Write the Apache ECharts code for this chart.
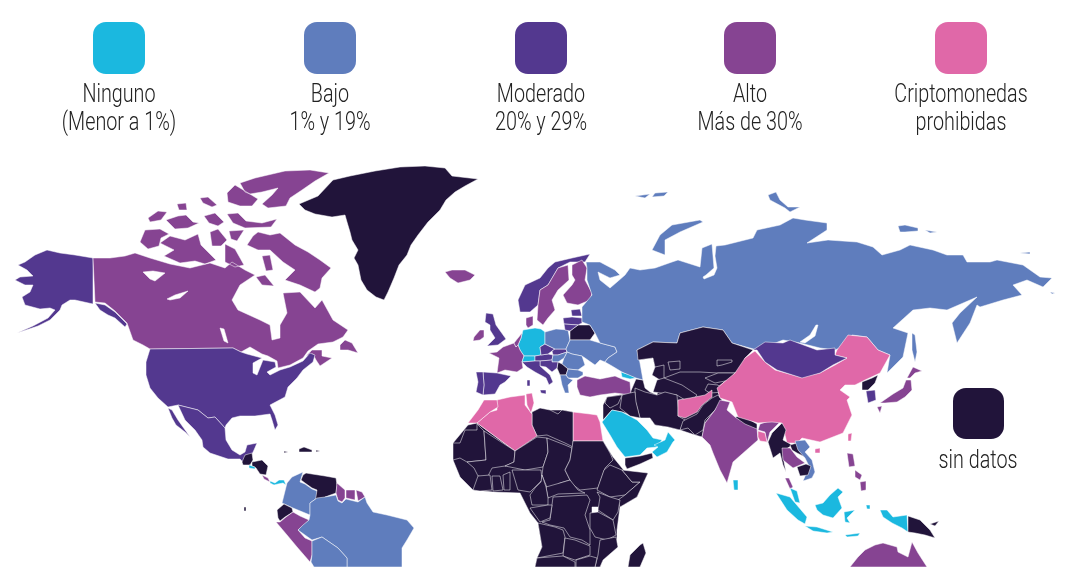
<!DOCTYPE html>
<html>
<head>
<meta charset="utf-8">
<title>Criptomonedas</title>
<style>html,body{margin:0;padding:0;background:#fff}#mapa{width:1080px;height:567px}</style>
<script src="https://cdn.jsdelivr.net/npm/echarts@6/dist/echarts.min.js"></script>
</head>
<body>
<div id="mapa"></div>
<script>
// niveles: 0 ninguno, 1 bajo, 2 moderado, 3 alto, 4 prohibidas, 5 sin datos
var nivelesColor = ['#1BB8DF', '#5F7DBD', '#53388F', '#864492', '#E068A8', '#21143A'];
var leyendaTextos = ['Ninguno\n(Menor a 1%)', 'Bajo\n1% y 19%', 'Moderado\n20% y 29%', 'Alto\nMás de 30%', 'Criptomonedas\nprohibidas'];
var sinDatosTexto = 'sin datos';

var ninguno = ['Alemania', 'Suiza', 'El Salvador', 'Panama', 'Arabia Saudita', 'Emiratos y Oman', 'Georgia', 'Sri Lanka', 'Indonesia'];
var bajo = ['Rusia', 'Polonia', 'Ucrania', 'Rumania', 'Hungria', 'Bulgaria', 'Grecia', 'Vietnam', 'Colombia', 'Brasil', 'Bolivia'];
var moderado = ['Alaska', 'Estados Unidos', 'Mexico', 'Noruega', 'Reino Unido', 'Austria', 'Chequia', 'Eslovaquia', 'Estonia', 'Letonia', 'Lituania', 'Croacia', 'Italia', 'España', 'Portugal', 'Mongolia', 'Corea del Sur'];
var alto = ['Canada', 'Islandia', 'Suecia', 'Finlandia', 'Dinamarca', 'Irlanda', 'Francia', 'Benelux', 'Turquia', 'India', 'Tailandia', 'Japon', 'Filipinas', 'Australia', 'Peru', 'Guyanas', 'Costa Rica'];
var prohibidas = ['China', 'Afganistan', 'Argelia', 'Tunez', 'Marruecos', 'Egipto', 'Bangladesh'];
var sinDatos = ['Groenlandia', 'Africa', 'Asia Central', 'Kazajistan', 'Turkmenistan', 'Kirguistan', 'Tayikistan', 'Iran', 'Pakistan', 'Irak', 'Siria', 'Yemen', 'Libia', 'Belarus', 'Serbia', 'Nepal', 'Myanmar', 'Laos', 'Camboya', 'Corea del Norte', 'Papua', 'Venezuela', 'Ecuador', 'Guatemala', 'Honduras', 'Caribe',
  'Mauritania', 'Mali', 'Niger', 'Chad', 'Sudan', 'Rep Centroafricana', 'Etiopia', 'Somalia', 'Kenia', 'Tanzania', 'Congo RD', 'Nigeria', 'Camerun', 'Gabon', 'Angola', 'Zambia', 'Mozambique', 'Namibia', 'Zimbabue', 'Madagascar', 'Costa de Marfil', 'Ghana', 'Benin'];

// contornos simplificados de cada pais, trazados a mano sobre el mapa de referencia
var contornos = {
  'Africa': ['468,425 453,443 453,460 460,477 473,490 493,492 520,493 530,513 538,523 542,547 537,558 535,567 600,567 603,560 617,547 617,530 620,507 637,497 648,473 630,478 622,468 613,457 603,441 573,441 573,412 562,410 550,410 532,412 532,425 515,451 477,423'],
  'Asia Central': ['637,350 653,342 677,343 680,333 703,327 723,330 732,343 753,350 745,358 735,373 717,388 720,398 715,410 705,423 702,437 695,435 680,430 668,427 655,425 650,418 640,418 622,412 612,410 603,420 603,405 607,397 630,393 636,379 643,380 645,388 650,392 657,395 660,380 652,375 655,367 653,358 638,360'],
  'Groenlandia': ['299,204 318,196 333,180 350,176 375,171 400,167 425,166 445,168 452,176 478,179 465,186 455,192 446,200 440,210 428,222 418,235 411,245 407,255 399,265 394,278 388,292 384,300 376,297 367,290 361,280 358,265 354,258 358,250 352,240 350,232 347,222 345,215 332,217 315,214 305,210'],
  'Alaska': ['93,258 75,255 60,253 47,250 35,255 25,262 18,265 27,270 33,276 20,277 15,280 25,285 33,285 30,292 22,297 25,305 40,309 50,308 55,310 48,318 33,326 17,333 38,326 50,320 60,310 62,305 70,300 75,300 93,304', '95,303 105,305 115,312 127,324 125,327 115,318 108,315 100,310'],
  'Canada': ['93,258 110,258 125,256 135,253 150,258 170,264 190,268 210,263 225,268 232,262 245,270 255,275 240,285 232,300 238,310 260,320 270,325 272,340 280,338 280,325 287,313 283,293 300,292 315,308 322,300 333,320 348,330 343,337 333,342 318,344 308,351 303,358 290,365 278,368 277,361 268,356 262,354 250,347 241,352 233,348 150,349 143,345 133,340 127,323 115,311 105,303 95,302',
    '306,356 312,350 322,350 322,356 332,358 320,366 316,360 313,354', '345,340 352,343 358,353 348,350 340,350 340,345',
    '247,245 253,236 258,232 270,235 280,233 295,245 308,252 320,260 331,268 322,278 320,288 315,292 300,285 285,280 295,270 283,262 270,250 258,250',
    '240,183 255,178 285,171 310,170 329,173 315,181 302,190 290,198 286,206 268,208 262,204 272,195 278,188 262,192 250,194 245,192',
    '227,193 235,185 245,191 258,199 252,206 240,206 228,202',
    '140,242 145,230 160,229 169,234 161,238 159,246 148,249', '160,243 170,236 185,240 198,234 201,245 216,260 205,264 195,261 180,263 164,256 174,250',
    '148,218 158,211 167,212 161,220 150,222', '166,220 178,216 186,215 193,222 199,223 188,228 175,229', '177,204 186,203 187,210 179,210', '200,198 208,197 217,205 212,207 203,203', '204,216 215,213 224,222 218,226 209,223',
    '227,214 238,213 246,221 262,223 277,219 271,227 245,228 233,223', '210,232 218,229 227,240 221,246 212,246', '229,231 244,230 237,241 231,239', '225,244 235,249 244,265 235,267 225,262',
    '262,256 270,255 273,270 266,271', '256,277 265,275 274,286 262,285'],
  'Estados Unidos': ['150,349 233,348 241,352 247,354 262,358 253,363 253,373 257,375 263,360 275,362 276,367 267,372 270,375 280,370 290,367 303,361 310,353 315,355 313,362 303,370 297,378 288,387 285,397 270,405 275,415 278,425 275,430 272,420 270,414 255,416 240,416 232,418 226,425 225,428 215,417 208,418 198,410 178,405 168,407 158,398 150,388 146,375 146,362'],
  'Mexico': ['178,405 198,410 208,418 215,417 225,428 226,440 232,450 240,455 245,452 247,445 257,443 254,450 250,458 243,462 240,459 228,459 210,453 203,447 202,440 195,430 185,420', '168,408 172,410 178,420 190,437 185,432 176,425 172,418'],
  'Guatemala': ['242,462 245,455 252,453 253,460 250,465 243,465'],
  'Honduras': ['252,462 262,460 268,466 266,475 260,474 256,468 252,466'],
  'El Salvador': ['249,465 255,467 255,469 249,468'],
  'Costa Rica': ['262,475 268,478 270,482 264,479'],
  'Panama': ['270,481 275,483 279,480 284,480 286,485 283,483 278,484 274,485 270,483'],
  'Caribe': ['299,449 304,447 312,450 312,452 299,452', '284,451 288,452 284,453', '316,450 320,451 316,452', '244,507 246,507 246,511 244,511'],
  'Colombia': ['303,472 300,482 305,484 312,489 317,491 317,498 310,503 310,515 293,508 282,503 287,483 292,477'],
  'Venezuela': ['303,475 306,473 312,474 325,476 336,478 337,485 336,493 325,497 322,503 315,503 317,490 312,488 305,483 301,480'],
  'Guyanas': ['337,483 345,490 345,498 342,502 338,500 336,493', '346,490 355,490 355,500 346,498', '356,490 362,492 365,497 358,501'],
  'Ecuador': ['277,510 284,504 292,508 293,512 285,517 280,521 278,518'],
  'Peru': ['280,522 286,517 293,512 300,516 309,520 303,526 298,530 305,538 312,541 312,555 310,562 297,547 287,535 276,522'],
  'Brasil': ['309,520 310,515 310,503 317,498 325,497 336,495 338,501 342,503 346,499 358,502 365,497 367,503 373,512 387,515 407,520 414,528 407,540 402,548 402,567 347,567 347,558 338,548 322,537 312,540 298,530 303,525'],
  'Bolivia': ['312,541 322,537 338,548 347,558 347,567 314,567 311,562 312,555'],
  'Islandia': ['445,272 452,270 465,270 475,275 470,280 458,283 450,278'],
  'Noruega': ['518,300 525,285 540,278 548,268 555,262 572,258 590,254 585,262 570,262 558,268 548,285 540,290 538,305 530,312 520,312'],
  'Suecia': ['558,268 568,265 569,280 558,290 552,300 555,310 548,318 543,325 537,320 538,305 540,290 548,285'],
  'Finlandia': ['572,265 582,260 587,268 585,280 592,293 590,300 578,305 567,303 563,295 572,285 575,280 572,275'],
  'Dinamarca': ['526,318 533,316 533,325 528,328 526,325'],
  'Reino Unido': ['486,313 493,314 496,325 501,332 506,339 498,345 487,346 495,338 490,330 490,325 485,322'],
  'Irlanda': ['474,337 480,330 484,330 484,337 480,340 473,341'],
  'Alemania': ['523,330 535,328 541,329 545,332 545,344 540,347 541,355 535,356 524,356 520,350 518,345 521,338'],
  'Francia': ['489,353 497,352 503,347 514,343 516,347 518,345 520,350 524,356 522,362 523,368 517,372 505,370 497,373 499,358'],
  'Benelux': ['514,343 522,333 521,338 518,345 516,347'],
  'Suiza': ['524,356 535,356 535,361 522,362'],
  'Austria': ['535,356 541,355 548,354 553,355 552,360 540,361 535,361'],
  'Chequia': ['540,347 545,344 555,349 552,351 548,354 541,355'],
  'Eslovaquia': ['552,351 555,349 566,349 567,352 558,355 553,355'],
  'Polonia': ['545,332 556,329 568,330 570,340 566,349 555,349 545,344'],
  'Belarus': ['570,331 578,325 590,325 595,333 590,340 570,340'],
  'Estonia': ['571,310 580,309 582,316 572,316'],
  'Letonia': ['563,318 572,317 582,318 582,323 578,325 564,324'],
  'Lituania': ['564,324 578,325 570,331 565,330'],
  'Ucrania': ['570,340 590,340 600,343 615,347 617,352 608,358 605,362 600,360 595,365 585,358 582,356 572,354 567,352 566,349'],
  'Rumania': ['564,358 567,352 572,354 582,356 585,365 578,370 568,369 562,364'],
  'Hungria': ['553,355 558,355 567,352 564,358 558,362 552,362 552,360'],
  'Serbia': ['558,362 562,364 568,369 566,375 560,375 557,368'],
  'Bulgaria': ['568,369 578,370 583,372 583,375 578,378 568,378 566,375'],
  'Grecia': ['560,375 566,375 568,378 573,380 568,385 569,393 565,393 562,385'],
  'Croacia': ['540,361 552,360 552,362 558,362 557,368 552,372 546,367 540,366'],
  'Italia': ['522,362 535,361 540,361 540,366 550,375 553,382 549,385 546,378 535,372 527,367', '540,390 546,390 546,394 541,393', '527,380 530,380 530,386 527,386'],
  'España': ['483,372 497,373 511,376 505,382 500,385 495,394 483,395 484,385'],
  'Portugal': ['476,372 483,372 484,385 483,395 476,392 478,382'],
  'Turquia': ['577,380 585,376 600,379 615,376 622,379 630,382 631,395 615,393 600,395 590,397 580,395 577,387'],
  'Georgia': ['621,372 630,375 636,378 630,379 622,377'],
  'Rusia': ['586,262 600,262 615,270 620,275 610,278 598,272 600,280 610,288 617,282 625,275 630,268 640,270 655,268 672,262 678,260 700,267 702,248 712,244 713,256 714,268 706,275 703,277 704,279 714,275 717,268 715,256 716,246 725,245 737,242 753,238 757,230 780,225 793,218 805,220 827,223 827,230 807,243 828,240 857,242 873,247 882,255 900,250 910,245 933,250 947,255 963,255 967,262 990,262 997,260 1023,265 1040,277 1052,278 1043,287 1027,280 1013,285 1022,295 1003,300 980,307 977,305 970,323 957,343 952,323 960,313 977,297 947,310 930,308 913,310 893,328 908,333 903,357 887,373 890,355 878,350 867,337 852,335 847,345 835,350 820,348 800,343 783,340 757,350 732,343 723,330 703,327 680,333 677,343 653,342 637,350 640,363 643,380 636,378 622,372 612,366 605,362 608,358 617,352 615,347 600,343 595,333 590,325 582,322 582,318 582,310 582,307 592,295 587,280 587,268',
    '652,250 660,235 672,225 700,220 703,222 680,232 665,240 665,255', '768,195 776,192 780,200 788,207 800,207 790,212 785,208 770,200', '635,196 650,194 645,198', '655,193 668,192 664,196 652,197', '898,226 905,225 918,228 918,231 905,232 900,232', '925,230 937,232 930,233', '1020,253 1030,252 1030,254', '912,333 915,335 917,352 915,362 912,350', '1050,292 1055,293 1052,294'],
  'Kazajistan': ['637,350 653,342 677,343 680,333 703,327 723,330 732,343 753,350 745,358 742,368 735,373 718,373 700,372 680,372 664,378 664,365 655,367 653,358 638,360'],
  'Turkmenistan': ['657,380 664,378 682,385 697,395 693,400 685,400 677,395 653,392'],
  'Kirguistan': ['705,378 718,373 735,373 730,380 715,383'],
  'Tayikistan': ['708,384 718,385 724,392 710,393 705,390'],
  'Iran': ['635,388 645,392 657,395 665,392 677,395 678,408 678,416 685,420 680,430 668,427 655,425 650,418 640,418 635,400'],
  'Irak': ['622,395 630,393 635,392 636,402 640,418 630,416 620,408'],
  'Siria': ['605,403 607,397 622,395 618,404 610,408'],
  'Afganistan': ['678,400 690,398 705,395 712,390 712,397 702,405 697,412 685,418 678,416 678,408'],
  'Pakistan': ['685,420 697,414 703,405 712,398 718,395 722,400 715,410 705,420 703,430 695,435 688,428 680,430 683,421'],
  'Arabia Saudita': ['602,422 612,410 622,412 637,420 647,430 653,438 662,440 657,447 647,448 640,455 625,457 617,447 610,435'],
  'Emiratos y Oman': ['654,445 665,440 668,432 675,440 673,442 667,452 657,457 652,452 658,447'],
  'Yemen': ['625,458 640,456 652,453 653,458 640,464 627,469 625,465'],
  'Egipto': ['573,412 590,414 597,415 600,422 603,441 573,441'],
  'Libia': ['532,412 540,408 550,410 558,414 562,410 573,412 573,441 573,447 565,443 547,435 537,436 532,425'],
  'Argelia': ['497,400 510,397 525,395 525,405 532,414 532,425 537,436 515,451 477,423 490,412 497,410'],
  'Tunez': ['526,394 532,393 534,403 531,413 527,405'],
  'Marruecos': ['468,423 478,410 484,400 497,400 498,407 490,412 477,423'],
  'Mauritania': ['477,424 484,431 486,460 467,462 460,458 453,460 453,443 460,443 465,430 477,430'],
  'Mali': ['484,431 515,451 514,462 505,466 492,468 487,478 478,476 474,468 467,462 486,460'],
  'Niger': ['515,451 537,437 547,438 548,452 543,467 525,470 515,468 505,466 514,462'],
  'Chad': ['547,438 565,445 572,448 570,460 565,470 570,480 560,483 548,490 542,475 543,467 548,452'],
  'Sudan': ['573,441 603,441 610,453 613,460 605,468 598,488 580,490 572,484 570,480 565,470 570,460 572,448'],
  'Rep Centroafricana': ['546,487 560,483 570,480 578,490 585,493 558,494 548,498'],
  'Etiopia': ['610,465 622,470 632,482 640,482 625,495 610,497 597,490 604,470'],
  'Somalia': ['622,470 648,473 637,497 620,507 618,500 625,495 640,482 632,482'],
  'Kenia': ['597,492 610,497 620,500 618,512 613,520 598,510 600,497'],
  'Tanzania': ['590,513 598,512 613,520 616,535 607,540 595,537 590,528'],
  'Congo RD': ['553,497 587,495 590,500 585,515 590,530 590,545 582,540 570,537 564,528 550,525 542,522 550,520 552,505'],
  'Nigeria': ['512,470 530,470 541,470 542,480 535,487 530,492 518,490 515,480'],
  'Camerun': ['542,475 546,487 548,498 548,505 532,505 530,495 535,488 541,482'],
  'Gabon': ['530,508 548,505 552,505 550,518 540,522 535,515'],
  'Angola': ['538,523 555,527 563,530 565,537 563,553 537,558 542,547'],
  'Zambia': ['565,538 575,540 590,546 590,555 575,560 563,556'],
  'Mozambique': ['600,540 616,537 618,547 603,560 600,567 595,567 598,555'],
  'Namibia': ['537,558 563,556 575,562 575,567 535,567'],
  'Zimbabue': ['576,560 590,556 597,558 595,567 576,567'],
  'Madagascar': ['628,567 630,555 640,545 643,543 646,553 640,567'],
  'Costa de Marfil': ['478,476 490,475 492,490 480,491 473,490'],
  'Ghana': ['492,476 500,476 503,490 493,491'],
  'Benin': ['503,475 510,472 510,490 504,490'],
  'India': ['720,400 730,402 727,410 735,417 757,428 758,440 750,447 733,462 727,483 720,470 713,453 710,445 702,437 705,423 715,410', '760,424 772,420 780,422 770,432 767,443 765,432 758,430'],
  'Bangladesh': ['758,431 765,433 767,442 760,441 758,437'],
  'Nepal': ['735,417 743,416 757,424 757,429 745,424'],
  'Sri Lanka': ['733,480 738,480 738,490 734,490'],
  'China': ['717,388 735,373 745,358 752,353 755,351 765,362 775,370 800,377 820,373 835,365 847,358 835,355 837,350 848,335 867,337 878,350 890,355 880,373 865,380 855,385 845,385 840,390 850,397 847,400 852,415 843,433 820,442 802,438 797,443 787,443 782,423 772,422 758,423 738,417 732,402 720,398', '815,449 820,448 820,453 815,453', '848,434 852,433 851,441 848,441'],
  'Mongolia': ['753,350 765,342 783,343 790,340 817,350 835,348 835,355 847,358 833,365 820,373 802,378 777,370 765,362 757,350'],
  'Corea del Norte': ['862,382 872,378 878,375 875,383 868,390 862,390'],
  'Corea del Sur': ['866,391 875,390 876,400 868,403'],
  'Japon': ['911,380 912,390 905,397 897,402 885,403 880,403 893,394 903,388 906,380', '877,407 882,406 880,413', '907,378 913,367 922,371 915,373 910,378'],
  'Filipinas': ['847,453 853,454 855,466 849,467', '855,470 862,475 860,480 855,477', '860,482 866,481 866,490 861,491'],
  'Myanmar': ['782,423 786,430 783,440 792,445 785,450 783,457 786,472 783,465 780,453 773,458 768,442 772,433'],
  'Laos': ['790,445 797,443 800,452 808,458 805,457 797,453 792,450'],
  'Vietnam': ['795,441 805,440 810,447 805,452 812,460 815,472 812,478 803,481 806,474 810,468 805,458 798,450'],
  'Tailandia': ['782,448 790,448 797,457 805,463 793,468 783,460', '785,478 789,478 793,487 790,489'],
  'Camboya': ['797,467 806,464 811,466 808,475 800,476'],
  'Indonesia': ['790,488 797,491 800,503 795,502', '776,493 790,497 807,517 805,524 798,520 787,510', '805,526 817,527 833,532 827,533 813,531', '815,505 823,503 830,495 838,488 843,492 838,497 842,508 833,518 823,515 817,510', '844,512 855,510 847,518 850,523 845,522', '880,510 887,510 893,517 907,515 908,532 902,528 892,523 883,517', '866,505 870,505 870,509 867,509', '845,535 860,533 858,536 847,537'],
  'Papua': ['908,516 920,520 930,530 935,538 925,535 915,533 908,532', '930,524 939,521 935,526'],
  'Australia': ['850,567 858,557 865,550 875,545 883,543 897,547 898,552 908,557 912,542 918,553 927,567']
};

// lagos y mares interiores
var huecos = {
  'Canada': ['143,272 153,271 165,273 155,281 150,279', '167,299 175,295 188,291 180,298 170,300', '220,328 224,329 228,343 224,341'],
  'Rusia': ['800,342 810,335 816,325 818,325 815,336 805,343'],
  'Kazajistan': ['668,362 680,361 680,369 670,370', '717,360 732,360 732,362 722,365 717,366'],
  'Africa': ['592,507 598,507 598,515 592,515']
};

function anillo(txt) {
  return txt.split(' ').map(function (p) {
    var c = p.split(',');
    return [+c[0], +c[1]];
  });
}
function area(r) {
  var s = 0;
  for (var i = 0; i < r.length; i++) {
    var b = r[(i + 1) % r.length];
    s += r[i][0] * b[1] - b[0] * r[i][1];
  }
  return s;
}

// el hueco va en sentido contrario al contorno para que quede vacio
var features = Object.keys(contornos).map(function (nombre) {
  var polys = contornos[nombre].map(function (t) { return [anillo(t)]; });
  (huecos[nombre] || []).forEach(function (t) {
    var h = anillo(t);
    if (area(h) * area(polys[0][0]) > 0) h.reverse();
    polys[0].push(h);
  });
  return { type: 'Feature', properties: { name: nombre }, geometry: { type: 'MultiPolygon', coordinates: polys } };
});
echarts.registerMap('mundo', { type: 'FeatureCollection', features: features });

var datos = [];
[ninguno, bajo, moderado, alto, prohibidas, sinDatos].forEach(function (lista, nivel) {
  lista.forEach(function (n) { datos.push({ name: n, value: nivel }); });
});

var fuente = '300 26px Roboto, "Liberation Sans", sans-serif';
var cuadroX = [93, 304, 515, 724, 935];
var grafico = [];
leyendaTextos.forEach(function (t, i) {
  grafico.push({ type: 'rect', left: cuadroX[i], top: 22, shape: { width: 52, height: 52, r: 13 }, style: { fill: nivelesColor[i] } });
  grafico.push({ type: 'text', x: cuadroX[i] + 26, y: 81, scaleX: 0.76, style: { text: t, fill: '#222', font: fuente, align: 'center', lineHeight: 28 } });
});
grafico.push({ type: 'rect', left: 953, top: 388, shape: { width: 51, height: 51, r: 13 }, style: { fill: nivelesColor[5] } });
grafico.push({ type: 'text', x: 978, y: 447, scaleX: 0.76, style: { text: sinDatosTexto, fill: '#222', font: fuente, align: 'center', lineHeight: 28 } });

var myChart = echarts.init(document.getElementById('mapa'));
var option = {
  backgroundColor: '#fff',
  animation: false,
  tooltip: { show: false },
  visualMap: {
    type: 'piecewise',
    show: false,
    seriesIndex: 0,
    pieces: nivelesColor.map(function (c, i) { return { value: i, color: c }; })
  },
  graphic: grafico,
  series: [{
    type: 'map',
    map: 'mundo',
    silent: true,
    roam: false,
    aspectScale: 1,
    projection: { project: function (p) { return p; }, unproject: function (p) { return p; } },
    boundingCoords: [[0, 0], [1080, 567]],
    left: 0, top: 0, width: 1080, height: 567,
    label: { show: false },
    itemStyle: { borderColor: '#fff', borderWidth: 0.5 },
    data: datos
  }]
};
myChart.setOption(option);
</script>
</body>
</html>
